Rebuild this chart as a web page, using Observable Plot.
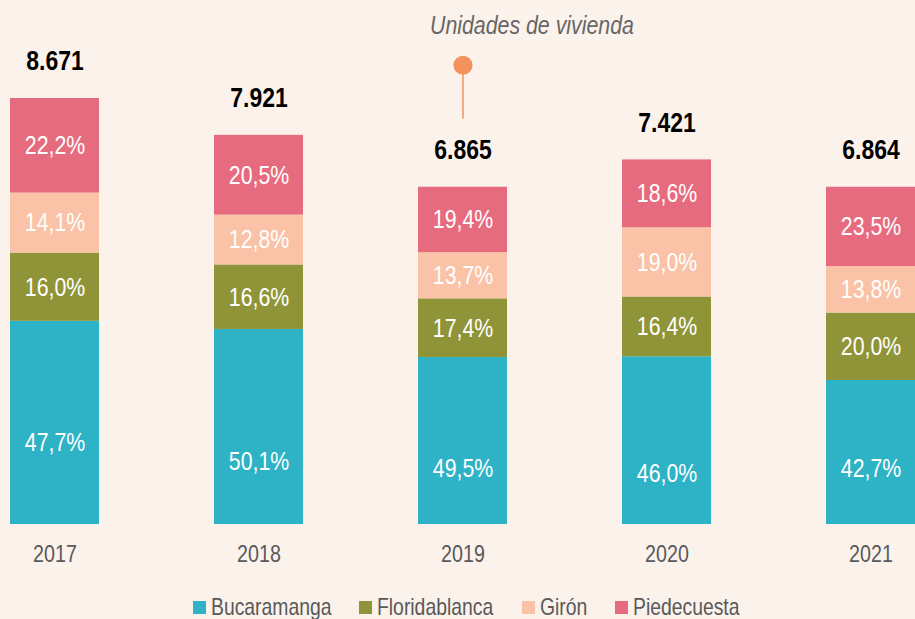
<!DOCTYPE html>
<html>
<head>
<meta charset="utf-8">
<script src="https://cdn.jsdelivr.net/npm/d3@7"></script>
<script src="https://cdn.jsdelivr.net/npm/@observablehq/plot@0.6"></script>
<style>
  html, body { margin: 0; padding: 0; background: #FBF2EC; overflow: hidden; }
  body { width: 915px; height: 619px; font-family: "Liberation Sans", Arial, sans-serif; }
  #title { height: 38px; box-sizing: border-box; padding-top: 12px; padding-left: 430px; font-size: 26px; line-height: 26px; font-style: italic; color: #666666; white-space: nowrap; }
  #title span { display: inline-block; transform: scaleX(0.82); transform-origin: left center; }
  #legend { height: 29px; box-sizing: border-box; padding-top: 6px; padding-left: 193px; display: flex; font-size: 23.6px; line-height: 23px; color: #595959; white-space: nowrap; }
  .item { display: flex; align-items: center; margin-right: 28px; }
  .sw { width: 13px; height: 13px; margin-right: 5px; flex: none; }
  .lbl { display: inline-block; transform: scaleX(0.82); transform-origin: left center; }
  svg { display: block; overflow: visible; }
</style>
</head>
<body>
<div id="title"><span>Unidades de vivienda</span></div>
<div id="chart"></div>
<div id="legend"></div>
<script>
// ---- data ----
const years = ["2017", "2018", "2019", "2020", "2021"];
const totals = [8671, 7921, 6865, 7421, 6864];
const cities = ["Bucaramanga", "Floridablanca", "Girón", "Piedecuesta"];
const bucaramanga = [47.7, 50.1, 49.5, 46.0, 42.7];
const floridablanca = [16.0, 16.6, 17.4, 16.4, 20.0];
const giron = [14.1, 12.8, 13.7, 19.0, 13.8];
const piedecuesta = [22.2, 20.5, 19.4, 18.6, 23.5];
const colors = ["#2EB2C6", "#909438", "#FAC2A6", "#E76B7E"];

// ---- build table ----
const shares = [bucaramanga, floridablanca, giron, piedecuesta];
const rows = [];
cities.forEach((city, c) => {
  years.forEach((year, i) => {
    rows.push({city, year, pct: shares[c][i], value: totals[i] * shares[c][i] / 100});
  });
});
const totalRows = years.map((year, i) => ({year, total: totals[i]}));

const es = d3.formatLocale({decimal: ",", thousands: ".", grouping: [3], currency: ["$", ""]});
const fmtTotal = es.format(",");
const fmtPct = d => es.format(".1f")(d) + "%";

const FONT = '"Liberation Sans", Arial, sans-serif';
const NARROW = 0.82; // emulate a narrow sans face

// manual label nudges (px) for the base series, as in the original layout
const baseNudge = [20, 35, 28, 33, 16];

const plot = Plot.plot({
  width: 915,
  height: 552,
  marginLeft: 10,
  marginRight: 0,
  marginTop: 60,
  marginBottom: 66,
  style: {background: "transparent", fontFamily: FONT, color: "#595959", overflow: "visible"},
  x: {domain: years, paddingInner: 0.564, paddingOuter: 0, label: null},
  y: {domain: [0, d3.max(totals)], axis: null},
  color: {domain: cities, range: colors},
  marks: [
    Plot.barY(rows, {x: "year", y: "value", fill: "city"}),
    Plot.text(rows, Plot.stackY({
      x: "year", y: "value", z: "city",
      text: d => d.city === "Bucaramanga" ? "" : fmtPct(d.pct),
      fill: "white", fontSize: 26
    })),
    ...years.map((yr, i) => Plot.text(rows.filter(d => d.city === "Bucaramanga" && d.year === yr), {
      x: "year", y: d => d.value / 2, text: d => fmtPct(d.pct),
      fill: "white", fontSize: 26, dy: baseNudge[i]
    })),
    Plot.text(totalRows, {
      x: "year", y: "total", text: d => fmtTotal(d.total),
      fill: "black", fontSize: 28, fontWeight: "bold", dy: -37
    }),
    Plot.ruleX([totalRows[2]], {
      x: "year", y1: "total", y2: "total", insetBottom: 54, dy: -68,
      stroke: "#F4925E", strokeWidth: 1.5
    }),
    Plot.dot([totalRows[2]], {
      x: "year", y: "total", r: 9.5, fill: "#F4925E", dy: -122
    }),
    Plot.axisX({tickSize: 0, tickPadding: 20, fontSize: 24, fill: "#595959", label: null})
  ]
});
document.getElementById("chart").appendChild(plot);

// horizontally condense every SVG text around its own centre
plot.querySelectorAll("text").forEach(t => {
  if (!t.textContent) return;
  const bb = t.getBBox();
  const cx = bb.x + bb.width / 2;
  const tr = t.getAttribute("transform") || "";
  t.setAttribute("transform", `${tr} translate(${cx},0) scale(${NARROW},1) translate(${-cx},0)`);
});

const legend = document.getElementById("legend");
cities.forEach((c, i) => {
  const it = document.createElement("div");
  it.className = "item";
  it.innerHTML = `<span class="sw" style="background:${colors[i]}"></span><span class="lbl">${c}</span>`;
  legend.appendChild(it);
  const lbl = it.querySelector(".lbl");
  const w = lbl.getBoundingClientRect().width / NARROW;
  lbl.style.marginRight = `${-(w * (1 - NARROW))}px`;
});
</script>
</body>
</html>
